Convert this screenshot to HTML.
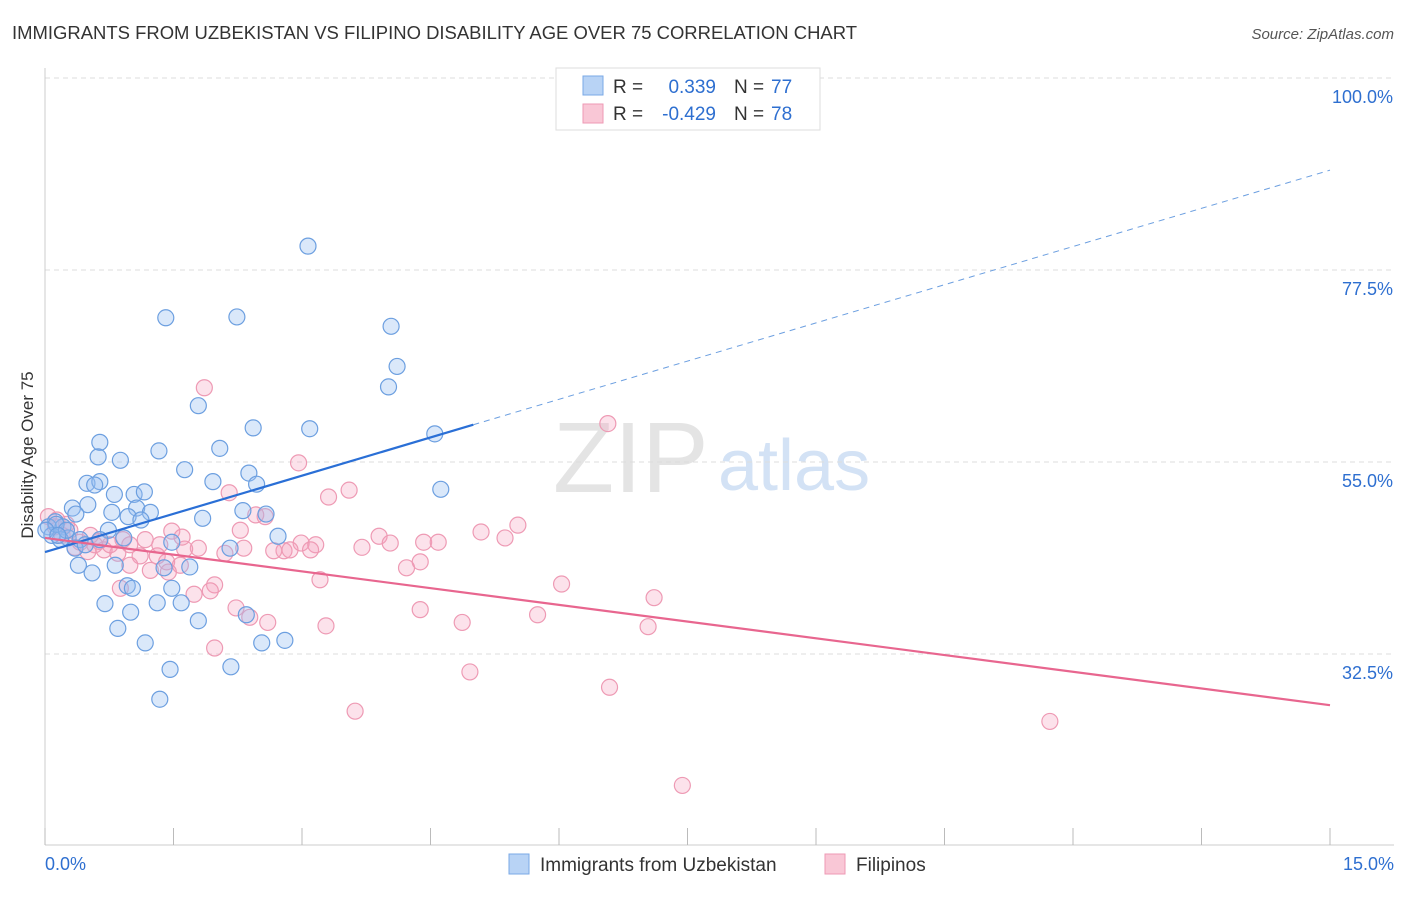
<!DOCTYPE html>
<html><head><meta charset="utf-8"><style>
body{margin:0;background:#fff;font-family:"Liberation Sans",sans-serif;}
svg text{font-family:"Liberation Sans",sans-serif;}
</style></head><body>
<svg id="chart" width="1406" height="892">
<text x="12" y="39" font-size="18" fill="#333" textLength="845" lengthAdjust="spacingAndGlyphs">IMMIGRANTS FROM UZBEKISTAN VS FILIPINO DISABILITY AGE OVER 75 CORRELATION CHART</text>
<text x="1394" y="39" font-size="15" fill="#555" font-style="italic" text-anchor="end">Source: ZipAtlas.com</text>
<text x="33" y="455" font-size="17" fill="#333" text-anchor="middle" transform="rotate(-90 33 455)">Disability Age Over 75</text>
<text x="553" y="492" font-size="100" fill="#e4e4e4" font-family="Liberation Serif">ZIP</text>
<text x="718" y="490" font-size="72" fill="#d3e2f5">atlas</text>
<g id="grid"></g><g id="pts"></g><g id="lines"></g>
<g>
<rect x="556" y="68" width="264" height="62" fill="#fff" stroke="#ddd"/>
<rect x="583" y="76" width="20" height="19" fill="#b8d3f5" stroke="#7aa8e6"/>
<rect x="583" y="104" width="20" height="19" fill="#f9c7d6" stroke="#ee9ab4"/>
<text x="613" y="93" font-size="19" fill="#333">R =</text>
<text x="716" y="93" font-size="19" fill="#2e6fd0" text-anchor="end">0.339</text>
<text x="734" y="93" font-size="19" fill="#333">N =</text><text x="771" y="93" font-size="19" fill="#2e6fd0">77</text>
<text x="613" y="120" font-size="19" fill="#333">R =</text>
<text x="716" y="120" font-size="19" fill="#2e6fd0" text-anchor="end">-0.429</text>
<text x="734" y="120" font-size="19" fill="#333">N =</text><text x="771" y="120" font-size="19" fill="#2e6fd0">78</text>
</g>
<g>
<rect x="509" y="854" width="20" height="20" fill="#b8d3f5" stroke="#7aa8e6"/>
<text x="540" y="871" font-size="19" fill="#333">Immigrants from Uzbekistan</text>
<rect x="825" y="854" width="20" height="20" fill="#f9c7d6" stroke="#ee9ab4"/>
<text x="856" y="871" font-size="19" fill="#333">Filipinos</text>
</g>
</svg>
<script>
const blueX=[3.07,1.41,2.24,4.04,4.11,4.01,1.79,2.43,3.09,4.55,0.64,2.04,1.33,0.62,0.88,1.63,2.38,0.49,0.64,1.96,2.47,4.62,0.58,0.81,1.04,1.16,0.32,0.50,0.78,1.07,1.23,2.31,2.58,0.36,0.97,1.12,1.84,0.12,0.04,0.21,0.74,2.72,0.08,0.27,0.41,0.18,1.48,2.16,0.35,0.92,0.39,0.55,0.82,1.39,1.69,0.96,1.02,1.48,0.70,1.31,1.59,1.00,2.35,1.79,0.85,2.53,2.80,1.17,1.46,2.17,1.34,0.13,0.01,0.25,0.64,0.47,0.15];
const blueY=[80.3,71.9,72.0,70.9,66.2,63.8,61.6,59.0,58.9,58.3,57.3,56.6,56.3,55.6,55.2,54.1,53.7,52.5,52.7,52.7,52.4,51.8,52.3,51.2,51.2,51.5,49.6,50.0,49.1,49.6,49.1,49.3,48.9,48.9,48.6,48.2,48.4,48.0,47.4,47.4,47.0,46.3,46.4,46.1,45.9,45.9,45.6,44.9,44.9,46.1,42.9,42.0,42.9,42.6,42.7,40.5,40.2,40.2,38.4,38.5,38.5,37.4,37.1,36.4,35.5,33.8,34.1,33.8,30.7,31.0,27.2,47.7,47.0,47.0,45.9,45.3,46.4];
const pinkX=[1.86,6.57,2.96,2.15,3.55,3.31,5.52,5.09,5.37,2.57,2.46,2.28,3.90,4.03,3.70,4.42,4.59,2.99,3.16,3.10,2.79,2.86,2.67,2.32,2.10,1.79,1.63,1.48,1.60,1.17,0.91,0.69,0.85,1.11,1.31,1.42,1.58,0.99,1.23,1.44,0.63,0.53,0.35,0.20,0.04,0.14,0.25,4.38,4.22,3.21,1.98,1.93,1.74,0.88,6.03,7.11,2.23,2.39,4.38,4.87,5.75,7.04,3.28,2.60,1.98,4.96,6.59,3.62,11.73,7.44,0.58,0.41,0.76,0.12,0.29,0.99,0.50,1.34];
const pinkY=[63.7,59.5,54.9,51.4,51.7,50.9,47.6,46.8,46.1,48.6,48.8,47.0,46.3,45.5,45.0,45.6,45.6,45.5,45.3,44.7,44.6,44.7,44.6,44.9,44.3,44.9,44.8,46.9,46.2,45.9,45.9,44.7,44.3,44.0,44.0,43.3,42.9,42.9,42.3,42.1,45.7,46.4,45.0,46.4,48.6,48.2,47.7,43.3,42.6,41.2,40.6,39.9,39.5,40.2,40.7,39.1,37.9,36.8,37.7,36.2,37.1,35.7,35.8,36.2,33.2,30.4,28.6,25.8,24.6,17.1,45.3,45.6,45.3,47.4,47.0,45.3,44.5,45.3];
const blueTrend=[44.45,89.2];
const pinkTrend=[46.1,26.5];
const yTicks=[100,77.5,55,32.5];
const yTickLabels=["100.0%","77.5%","55.0%","32.5%"];
const xTickCount=10;
const NS="http://www.w3.org/2000/svg";
const X=v=>45+v*(1330-45)/15, Y=v=>78+(100-v)*192/22.5;
function mk(tag,at,parent){const e=document.createElementNS(NS,tag);for(const k in at)e.setAttribute(k,at[k]);parent.appendChild(e);return e;}
const grid=document.getElementById('grid');
yTicks.forEach((t,i)=>{
 const l=mk('line',{x1:45,x2:1394,y1:Y(t),y2:Y(t),stroke:'#ddd','stroke-dasharray':'5,4'},grid);
 
 
 const tx=mk('text',{x:1393,y:Y(t)+25,'font-size':18,fill:'#2e6fd0','text-anchor':'end'},grid);
 tx.textContent=yTickLabels[i];
 
 
});
const ax=mk('line',{x1:45,x2:45,y1:68,y2:845,stroke:'#ccc'},grid);


const axx=mk('line',{x1:45,x2:1394,y1:845,y2:845,stroke:'#ccc'},grid);


for(let i=0;i<=xTickCount;i++){const tk=mk('line',{x1:X(i*1.5),x2:X(i*1.5),y1:828,y2:845,stroke:'#bbb'},grid);
 
 }
const t0=mk('text',{x:45,y:870,'font-size':18,fill:'#2e6fd0'},grid);t0.textContent='0.0%';


const t1=mk('text',{x:1394,y:870,'font-size':18,fill:'#2e6fd0','text-anchor':'end'},grid);t1.textContent='15.0%';


const pts=document.getElementById('pts');
pinkX.forEach((x,i)=>{const c=mk('circle',{cx:X(x),cy:Y(pinkY[i]),r:8,fill:'rgba(244,160,188,0.3)',stroke:'#ee9ab4','stroke-width':1.2},pts);
 
 });
blueX.forEach((x,i)=>{const c=mk('circle',{cx:X(x),cy:Y(blueY[i]),r:8,fill:'rgba(150,190,240,0.35)',stroke:'#6c9fe0','stroke-width':1.2},pts);
 
 });
const lines=document.getElementById('lines');
const bAt=v=>blueTrend[0]+(blueTrend[1]-blueTrend[0])*v/15;
const b1=mk('line',{x1:X(0),y1:Y(bAt(0)),x2:X(5.0),y2:Y(bAt(5.0)),stroke:'#2a6fd6','stroke-width':2.2},lines);


const b2=mk('line',{x1:X(5.0),y1:Y(bAt(5.0)),x2:X(15),y2:Y(bAt(15)),stroke:'#6c9fe0','stroke-width':1,'stroke-dasharray':'6,5'},lines);


const p1=mk('line',{x1:X(0),y1:Y(pinkTrend[0]),x2:X(15),y2:Y(pinkTrend[1]),stroke:'#e8668f','stroke-width':2.2},lines);


</script>
</body></html>
